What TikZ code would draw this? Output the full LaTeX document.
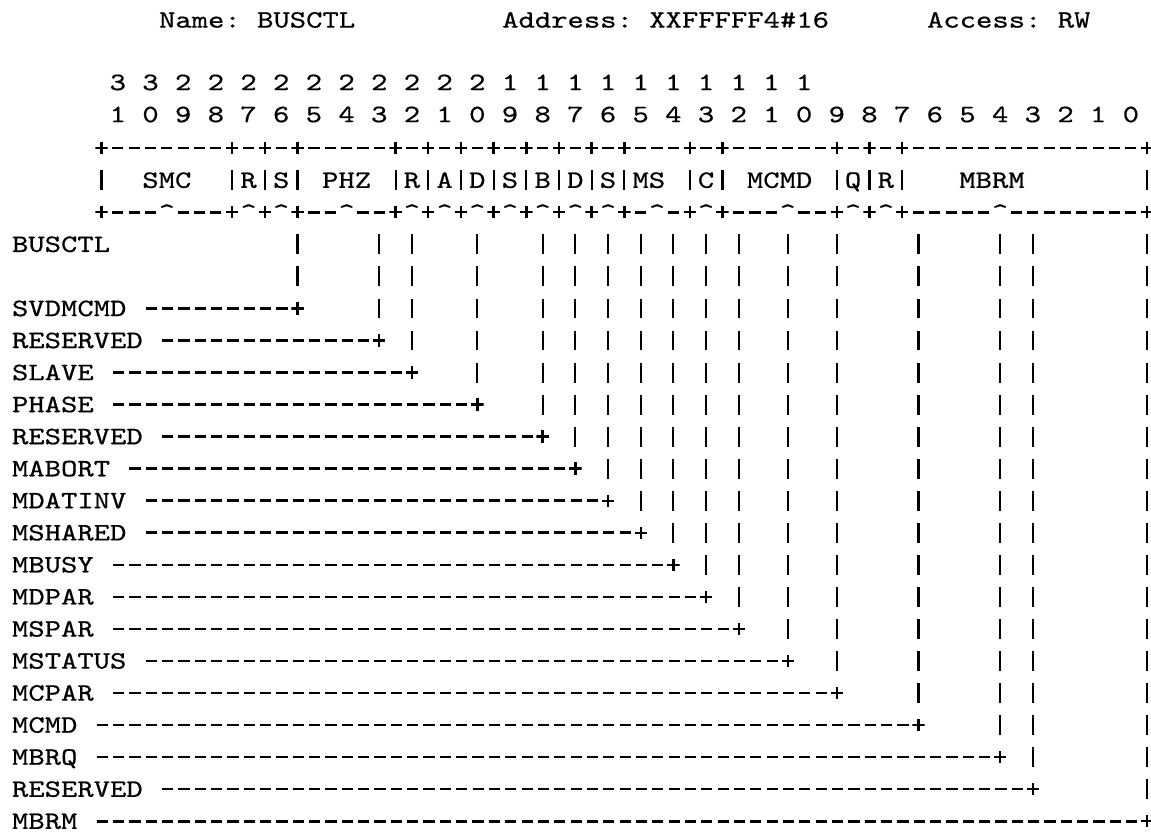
\documentclass[tikz,border=0pt]{standalone}
\usepackage{fontspec}
\setmonofont{lmmono10-regular.otf}[FakeStretch=1.245,FakeBold=0.6]
\begin{document}
\begin{tikzpicture}[x=8.17pt,y=-16.025pt,every node/.style={font=\ttfamily\fontsize{12.5}{14}\selectfont,inner sep=0pt,text height=7.6pt,text depth=0pt},
dashrule/.style={line width=1.3pt,dash pattern=on 5.6pt off 2.57pt},barrule/.style={line width=1.1pt,dash pattern=on 9.94pt off 6.085pt},
plusmark/.style={fill=white,minimum size=6.2pt,text height=0pt,path picture={\draw[line width=1.2pt](path picture bounding box.west)--(path picture bounding box.east)(path picture bounding box.north)--(path picture bounding box.south);}}]
\useasboundingbox(-6.2117,-0.624)rectangle(64.2319,25.429);
\node[anchor=west](nm)at(3.5,0){Name: BUSCTL};\node[anchor=west](ad)at(24.5,0){Address: XXFFFFF4\#16};\node[anchor=west](ac)at(50.5,0){Access: RW};
\foreach \b in {0,...,31}{\pgfmathtruncatemacro\bu{mod(\b,10)}\pgfmathtruncatemacro\bt{\b/10}\node(one\b)at(63-2*\b,2.95){\bu};\ifnum\b>9 \node(ten\b)at(63-2*\b,1.95){\bt};\fi}
% register box
\draw[dashrule](0.657,4)--(63.343,4)(0.657,6)--(63.343,6);
\foreach \c in {0,8,10,12,18,20,22,24,26,28,30,32,36,38,45,47,49,64}{\node[plusmark](bt\c)at(\c,4){};\node[plusmark](bb\c)at(\c,6){};\draw[line width=1.1pt](\c,4.69)--(\c,5.31);}
\foreach \x/\k/\n[count=\i] in {4/4/SMC,9/9/R,11/11/S,15/15/PHZ,19/19/R,21/21/A,23/23/D,25/25/S,27/27/B,29/29/D,31/31/S,33.5/34/MS,37/37/C,41.5/42/MCMD,46/46/Q,48/48/R,54.5/55/MBRM}{\node(f\i)at(\x,5){\n};\node[fill=white](k\i)at(\k,6){\textasciicircum};}
% field legend
\node[anchor=west](bus)at(-5.5,7){BUSCTL};
\foreach \r/\c/\n in {9/12/SVDMCMD,10/17/RESERVED,11/19/SLAVE,12/23/PHASE,13/27/RESERVED,14/29/MABORT,15/31/MDATINV,16/33/MSHARED,17/35/MBUSY,18/37/MDPAR,19/39/MSPAR,20/42/MSTATUS,21/45/MCPAR,22/50/MCMD,23/55/MBRQ,24/57/RESERVED,25/64/MBRM}{\node[anchor=west](l\r)at(-5.5,\r){\n};\node[plusmark](p\r)at(\c,\r){};\coordinate(top\r)at(\c,6.69);\draw[dashrule]([xshift=9.45pt]l\r.east)--(p\r.west);\draw[barrule]([yshift=11.04pt]p\r.center)--(top\r);}
\end{tikzpicture}
\end{document}
